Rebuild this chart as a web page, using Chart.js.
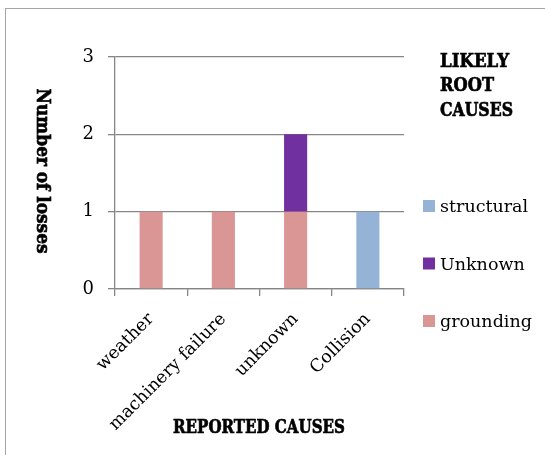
<!DOCTYPE html>
<html>
<head>
<meta charset="utf-8">
<script src="https://cdn.jsdelivr.net/npm/chart.js@4.4.1/dist/chart.umd.min.js"></script>
<style>
  html, body { margin: 0; padding: 0; background: #fff; }
  #wrap { position: relative; width: 545px; height: 455px; }
</style>
</head>
<body>
<div id="wrap"><canvas id="lossChart"></canvas></div>
<script>
// 数据
const categories = ['weather', 'machinery failure', 'unknown', 'Collision'];
const grounding = [1, 1, 1, 0];
const unknownCause = [0, 0, 1, 0];
const structural = [0, 0, 0, 1];
const yTicks = [0, 1, 2, 3];
const legendTitle = ['LIKELY', 'ROOT', 'CAUSES'];

const FONT = "'DejaVu Serif', serif";
const BOLD = "bold 19px 'DejaVu Serif', serif";

// 粗体标题压窄到目标宽度，再描边加粗
function boldText(ctx, text, x, y, w) {
    ctx.font = BOLD;
    ctx.fillText(text, x, y, w);
    ctx.strokeStyle = '#000';
    ctx.lineWidth = 0.7;
    ctx.strokeText(text, x, y, w);
}

// 边框、坐标轴标题、图例
const decorPlugin = {
    id: 'decor',
    beforeDraw(chart) {
        const ctx = chart.ctx;
        ctx.save();
        ctx.strokeStyle = '#a6a6a6';
        ctx.lineWidth = 1;
        ctx.strokeRect(5.5, 8.5, 600, 500);
        ctx.restore();
    },
    afterDraw(chart) {
        const ctx = chart.ctx;
        ctx.save();
        ctx.fillStyle = '#000';

        // y 轴标题（顺时针旋转）
        ctx.textAlign = 'center';
        ctx.textBaseline = 'middle';
        ctx.translate(42, 171);
        ctx.rotate(Math.PI / 2);
        boldText(ctx, 'Number of losses', 0, 0, 165);
        ctx.setTransform(1, 0, 0, 1, 0, 0);

        // x 轴标题
        boldText(ctx, 'REPORTED CAUSES', 259, 428, 172);

        // 图例标题
        ctx.textAlign = 'left';
        ctx.textBaseline = 'alphabetic';
        const titleW = [69, 54, 73];
        legendTitle.forEach((t, i) => boldText(ctx, t, 440, 66.5 + i * 24.5, titleW[i]));

        // 图例项（倒序：与堆叠顺序一致）
        ctx.font = '17.5px ' + FONT;
        const items = chart.data.datasets.slice().reverse();
        items.forEach((ds, i) => {
            const base = 212 + i * 57.5;
            ctx.fillStyle = ds.backgroundColor;
            ctx.fillRect(423, base - 12, 12, 12);
            ctx.fillStyle = '#000';
            ctx.fillText(ds.label, 440, base);
        });
        ctx.restore();
    }
};

const ctx = document.getElementById('lossChart').getContext('2d');
new Chart(ctx, {
    type: 'bar',
    data: {
        labels: categories,
        datasets: [
            { label: 'grounding', data: grounding, backgroundColor: '#d99694' },
            { label: 'Unknown', data: unknownCause, backgroundColor: '#7030a0' },
            { label: 'structural', data: structural, backgroundColor: '#95b3d7' }
        ]
    },
    options: {
        responsive: true,
        maintainAspectRatio: false,
        animation: false,
        layout: { padding: { left: 0, top: 57, right: 141, bottom: 0 } },
        datasets: { bar: { categoryPercentage: 1, barPercentage: 0.32, borderWidth: 0 } },
        scales: {
            x: {
                stacked: true,
                afterFit: s => { s.height = 166; },
                grid: { drawOnChartArea: false, color: '#868686', tickLength: 7, lineWidth: 1.3 },
                border: { color: '#868686', width: 1.3 },
                ticks: {
                    color: '#000',
                    font: { family: FONT, size: 17.5 },
                    minRotation: 45, maxRotation: 45, padding: 13
                }
            },
            y: {
                stacked: true,
                min: 0, max: 3,
                afterFit: s => { s.width = 115; },
                afterBuildTicks: s => { s.ticks = yTicks.map(v => ({ value: v })); },
                grid: { color: '#868686', tickLength: 7, lineWidth: 1.3 },
                border: { color: '#868686', width: 1.3 },
                ticks: {
                    color: '#000',
                    font: { family: FONT, size: 18 },
                    padding: 14
                }
            }
        },
        plugins: {
            legend: { display: false },
            tooltip: { enabled: false }
        }
    },
    plugins: [decorPlugin]
});
</script>
</body>
</html>
